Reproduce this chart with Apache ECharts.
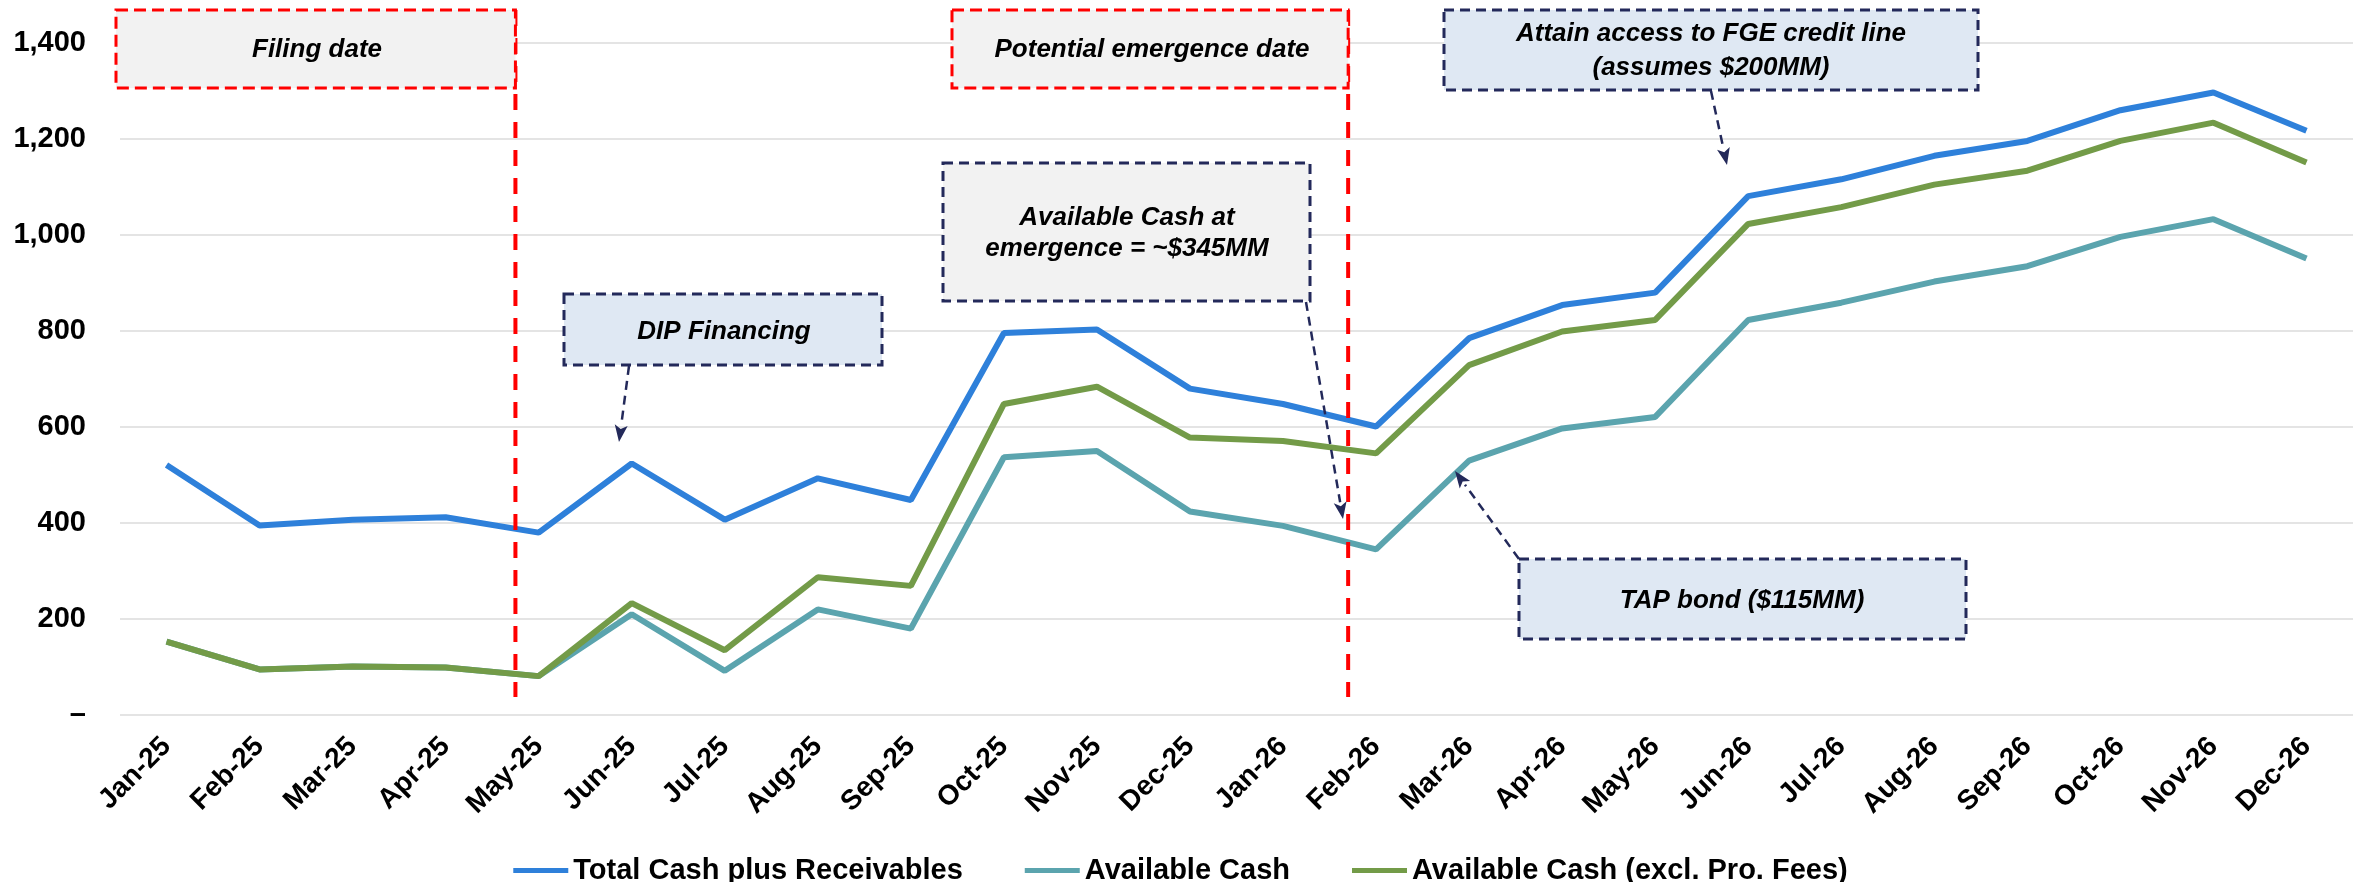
<!DOCTYPE html>
<html>
<head>
<meta charset="utf-8">
<title>Liquidity Forecast</title>
<script src="https://cdn.jsdelivr.net/npm/echarts@6/dist/echarts.min.js"></script>
<style>
  html, body { margin: 0; padding: 0; background: #ffffff; }
  #chart { width: 2361px; height: 882px; }
</style>
</head>
<body>
<div id="chart"></div>
<script>
// Months on the x axis
const months = [
  'Jan-25', 'Feb-25', 'Mar-25', 'Apr-25', 'May-25', 'Jun-25', 'Jul-25', 'Aug-25',
  'Sep-25', 'Oct-25', 'Nov-25', 'Dec-25', 'Jan-26', 'Feb-26', 'Mar-26', 'Apr-26',
  'May-26', 'Jun-26', 'Jul-26', 'Aug-26', 'Sep-26', 'Oct-26', 'Nov-26', 'Dec-26'
];

// Balances in $MM
const totalCashPlusReceivables = [
  521, 395, 407, 412, 380, 524, 407, 493, 448, 796, 803, 680,
  648, 601, 785, 854, 880, 1081, 1116, 1165, 1196, 1260, 1297, 1217
];
const availableCash = [
  153, 95, 101, 99, 81, 210, 92, 220, 180, 537, 550, 424,
  394, 345, 530, 597, 621, 823, 859, 903, 935, 996, 1033, 951
];
const availableCashExclProFees = [
  153, 95, 101, 99, 81, 233, 135, 287, 269, 648, 684, 578,
  571, 545, 729, 799, 823, 1023, 1058, 1105, 1134, 1196, 1234, 1151
];

// Y axis ticks
const yMin = 0;
const yMax = 1400;
const yStep = 200;

// Milestone markers, placed as fractional month positions
const filingDateIndex = 3.75;
const emergenceDateIndex = 12.7;

const FONT = '"Liberation Sans", Arial, Helvetica, sans-serif';
const NAVY = '#23295A';
const RED = '#FF0000';

const chart = echarts.init(document.getElementById('chart'), null, { renderer: 'canvas' });

chart.setOption({
  animation: false,
  backgroundColor: '#ffffff',
  textStyle: { fontFamily: FONT },
  grid: { left: 120, right: 8, top: 43, bottom: 167, containLabel: false },
  legend: {
    top: 851,
    left: 'center',
    icon: 'rect',
    itemWidth: 55,
    itemHeight: 5,
    itemGap: 62,
    textStyle: { fontFamily: FONT, fontSize: 29, fontWeight: 'bold', color: '#000000' },
    data: ['Total Cash plus Receivables', 'Available Cash', 'Available Cash (excl. Pro. Fees)']
  },
  xAxis: {
    type: 'category',
    data: months,
    boundaryGap: true,
    axisLine: { show: false },
    axisTick: { show: false },
    axisLabel: {
      interval: 0,
      rotate: 45,
      margin: 27,
      fontFamily: FONT,
      fontSize: 28,
      fontWeight: 'bold',
      color: '#000000'
    }
  },
  yAxis: {
    type: 'value',
    min: yMin,
    max: yMax,
    interval: yStep,
    axisLine: { show: false },
    axisTick: { show: false },
    splitLine: { lineStyle: { color: '#E4E4E4', width: 2 } },
    axisLabel: {
      margin: 34,
      fontFamily: FONT,
      fontSize: 29,
      fontWeight: 'bold',
      color: '#000000',
      formatter: v => (v === 0 ? '\u2013' : v.toLocaleString('en-US'))
    }
  },
  series: [
    {
      name: 'Total Cash plus Receivables',
      type: 'line',
      data: totalCashPlusReceivables,
      symbol: 'none',
      color: '#2E80DA',
      lineStyle: { width: 6, color: '#2E80DA' }
    },
    {
      name: 'Available Cash',
      type: 'line',
      data: availableCash,
      symbol: 'none',
      color: '#5BA4AE',
      lineStyle: { width: 6, color: '#5BA4AE' }
    },
    {
      name: 'Available Cash (excl. Pro. Fees)',
      type: 'line',
      data: availableCashExclProFees,
      symbol: 'none',
      color: '#739B48',
      lineStyle: { width: 6, color: '#739B48' }
    }
  ]
});

// Pixel x of a fractional month position on the category axis
function monthX(idx) {
  const i0 = Math.floor(idx);
  const a = chart.convertToPixel({ xAxisIndex: 0 }, i0);
  const b = chart.convertToPixel({ xAxisIndex: 0 }, i0 + 1);
  return a + (b - a) * (idx - i0);
}

function box(x, y, w, h, fill, stroke, dash) {
  return {
    type: 'rect',
    z: 10,
    shape: { x: x, y: y, width: w, height: h },
    style: { fill: fill, stroke: stroke, lineWidth: 3, lineDash: dash }
  };
}

function label(lines, cx, cy, lineGap) {
  const out = [];
  const n = lines.length;
  lines.forEach((t, k) => {
    out.push({
      type: 'text',
      z: 11,
      style: {
        text: t,
        x: cx,
        y: cy + (k - (n - 1) / 2) * lineGap,
        align: 'center',
        verticalAlign: 'middle',
        fontFamily: FONT,
        fontSize: 26,
        fontWeight: 'bold',
        fontStyle: 'italic',
        fill: '#000000'
      }
    });
  });
  return out;
}

function arrow(x1, y1, x2, y2) {
  const dx = x2 - x1, dy = y2 - y1;
  const len = Math.sqrt(dx * dx + dy * dy);
  const ux = dx / len, uy = dy / len;
  const headLen = 17, headHalf = 6.5;
  const bx = x2 - ux * headLen, by = y2 - uy * headLen;
  return [
    {
      type: 'line',
      z: 9,
      shape: { x1: x1, y1: y1, x2: bx, y2: by },
      style: { stroke: NAVY, lineWidth: 2.5, lineDash: [9, 6] }
    },
    {
      type: 'polygon',
      z: 9,
      shape: {
        points: [
          [x2, y2],
          [bx - uy * headHalf, by + ux * headHalf],
          [bx + ux * 4, by + uy * 4],
          [bx + uy * headHalf, by - ux * headHalf]
        ]
      },
      style: { fill: NAVY }
    }
  ];
}

function drawAnnotations() {
  const xFiling = monthX(filingDateIndex);
  const xEmerge = monthX(emergenceDateIndex);
  const g = [];

  // Milestone lines
  [xFiling, xEmerge].forEach(x => {
    g.push({
      type: 'line',
      z: 8,
      shape: { x1: x, y1: 10, x2: x, y2: 697 },
      style: { stroke: RED, lineWidth: 4, lineDash: [16, 12] }
    });
  });

  // Milestone captions
  g.push(box(116, 10, xFiling - 116, 78, '#F2F2F2', RED, [12, 6]));
  g.push(...label(['Filing date'], 317, 50, 30));
  g.push(box(952, 10, xEmerge - 952, 78, '#F2F2F2', RED, [12, 6]));
  g.push(...label(['Potential emergence date'], 1152, 50, 30));

  // Call-outs
  g.push(box(564, 294, 318, 71, '#DFE8F3', NAVY, [10, 6]));
  g.push(...label(['DIP Financing'], 724, 332, 30));
  g.push(...arrow(629, 366, 619, 442));

  g.push(box(943, 163, 367, 138, '#F2F2F2', NAVY, [10, 6]));
  g.push(...label(['Available Cash at', 'emergence = ~$345MM'], 1127, 233, 31));
  g.push(...arrow(1306, 302, 1343, 519));

  g.push(box(1444, 10, 534, 80, '#DFE8F3', NAVY, [10, 6]));
  g.push(...label(['Attain access to FGE credit line', '(assumes $200MM)'], 1711, 51, 34));
  g.push(...arrow(1711, 91, 1727, 165));

  g.push(box(1519, 559, 447, 80, '#DFE8F3', NAVY, [10, 6]));
  g.push(...label(['TAP bond ($115MM)'], 1742, 601, 30));
  g.push(...arrow(1519, 559, 1455, 471));

  chart.setOption({ graphic: g });
}

drawAnnotations();
</script>
</body>
</html>
